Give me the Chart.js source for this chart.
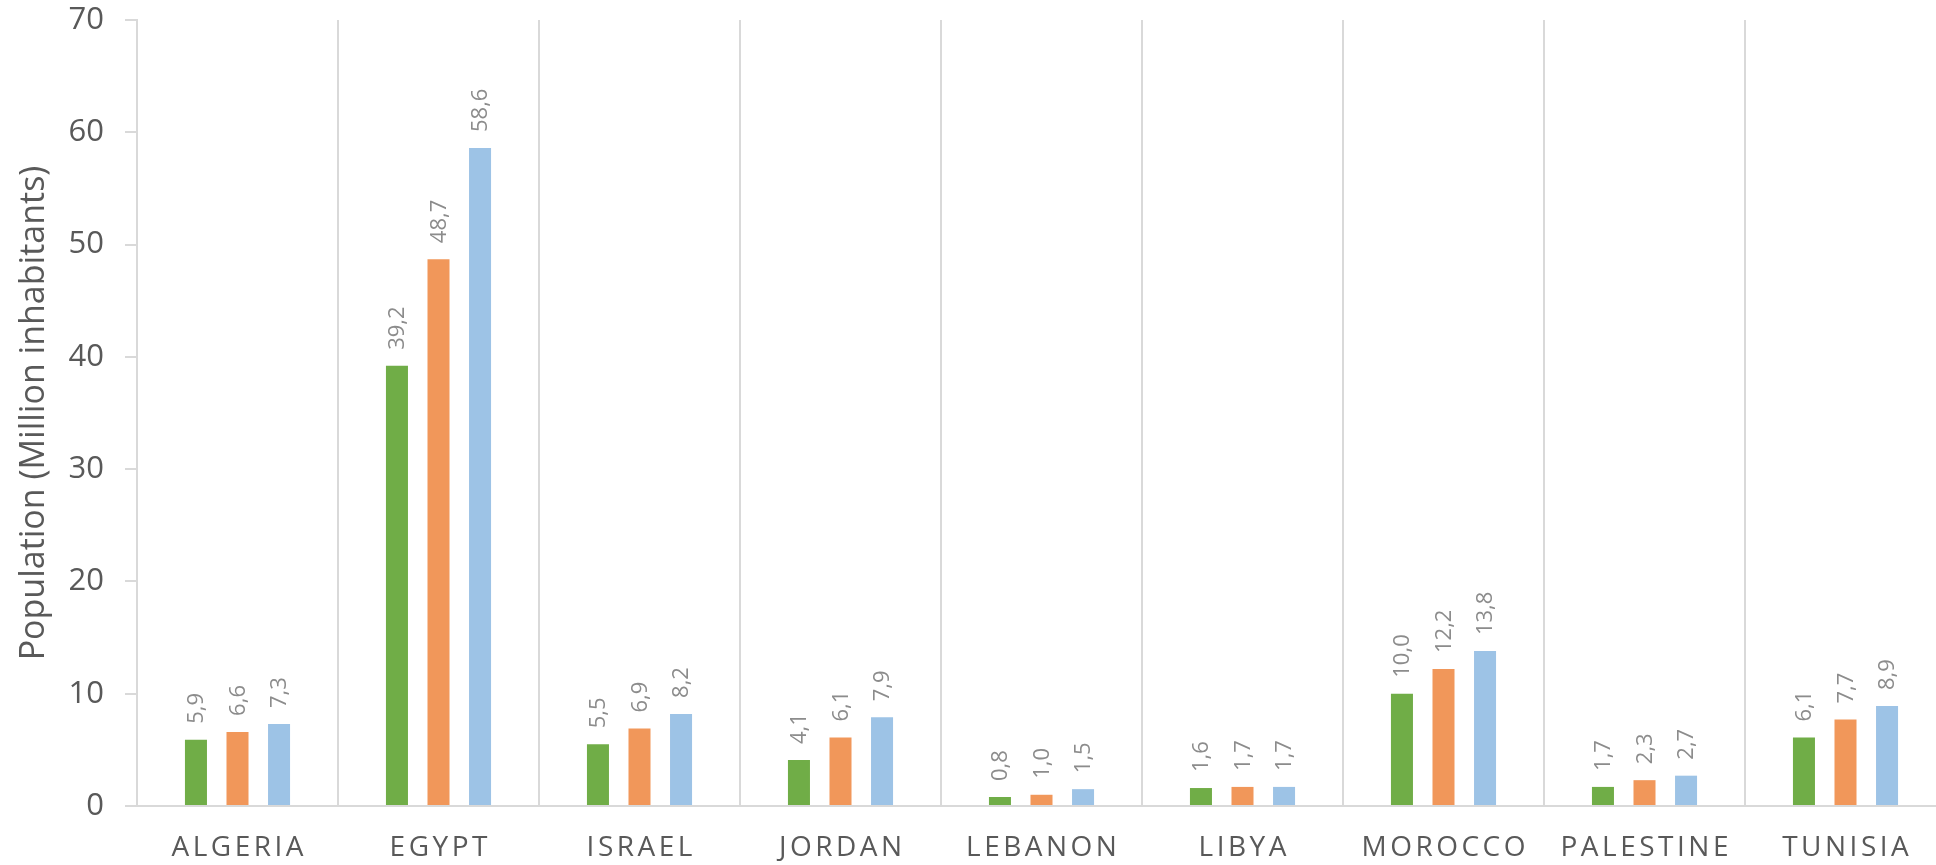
<!DOCTYPE html>
<html>
<head>
<meta charset="utf-8">
<script src="https://cdn.jsdelivr.net/npm/chart.js@4"></script>
<style>
  body { margin: 0; overflow: hidden; background: #fff; }
  #wrap { width: 1936px; height: 865px; overflow: hidden; }
</style>
</head>
<body>
<div id="wrap"><canvas id="pop-graph" width="1946" height="865"></canvas></div>
<script>
let labels = ['Algeria', 'Egypt', 'Israel', 'Jordan', 'Lebanon', 'Libya', 'Morocco', 'Palestine', 'Tunisia'];

// three series per country (green, orange, blue)
let series1 = [5.9, 39.2, 5.5, 4.1, 0.8, 1.6, 10.0, 1.7, 6.1];
let series2 = [6.6, 48.7, 6.9, 6.1, 1.0, 1.7, 12.2, 2.3, 7.7];
let series3 = [7.3, 58.6, 8.2, 7.9, 1.5, 1.7, 13.8, 2.7, 8.9];

let colour = ['#70AD47', '#F1975A', '#9DC3E6'];
let fontFamily = '"Open Sans", "Noto Sans", sans-serif';
let gridColour = '#d9d9d9';

// value labels standing upright above each bar
let barValues = {
    id: 'barValues',
    afterDatasetsDraw(chart) {
        let ctx = chart.ctx;
        ctx.save();
        ctx.fillStyle = '#8c8c8c';
        ctx.font = '22px ' + fontFamily;
        ctx.textAlign = 'left';
        ctx.textBaseline = 'middle';
        chart.data.datasets.forEach(function (ds, i) {
            chart.getDatasetMeta(i).data.forEach(function (bar, j) {
                let txt = ds.data[j].toFixed(1).replace('.', ',');
                ctx.save();
                ctx.translate(bar.x + 1, bar.y - 16);
                ctx.rotate(-Math.PI / 2);
                ctx.fillText(txt, 0, 0);
                ctx.restore();
            });
        });
        ctx.restore();
    }
};

// spaced out uppercase country names under the axis
let countryLabels = {
    id: 'countryLabels',
    afterDraw(chart) {
        let ctx = chart.ctx;
        let xScale = chart.scales.x;
        let spacing = 3.5;
        ctx.save();
        ctx.fillStyle = '#595959';
        ctx.font = '28px ' + fontFamily;
        ctx.letterSpacing = spacing + 'px';
        ctx.textAlign = 'center';
        ctx.textBaseline = 'middle';
        labels.forEach(function (name, i) {
            ctx.fillText(name.toUpperCase(), xScale.getPixelForValue(i) + spacing / 2, 848);
        });
        ctx.restore();
    }
};

let ctx = document.querySelector('#pop-graph').getContext('2d');

let myChart = new Chart(ctx, {
    type: 'bar',
    data: {
        labels: labels,
        datasets: [
            { label: 'Series 1', data: series1, backgroundColor: colour[0] },
            { label: 'Series 2', data: series2, backgroundColor: colour[1] },
            { label: 'Series 3', data: series3, backgroundColor: colour[2] }
        ]
    },
    options: {
        responsive: false,
        animation: false,
        categoryPercentage: 0.62,
        barPercentage: 0.53,
        layout: { padding: { top: 0, right: 0, bottom: 0, left: 0 } },
        plugins: {
            legend: { display: false },
            tooltip: { enabled: false }
        },
        scales: {
            x: {
                grid: {
                    offset: true,
                    color: gridColour,
                    lineWidth: 2,
                    drawTicks: false
                },
                border: { display: true, color: gridColour, width: 2 },
                ticks: { display: false },
                afterFit: function (scale) { scale.height = 59; }
            },
            y: {
                min: 0,
                max: 70,
                ticks: {
                    stepSize: 10,
                    color: '#595959',
                    padding: 21,
                    font: { family: fontFamily, size: 31 }
                },
                grid: {
                    drawOnChartArea: false,
                    color: gridColour,
                    lineWidth: 2,
                    tickLength: 12
                },
                border: { display: true, color: gridColour, width: 2 },
                title: {
                    display: true,
                    text: 'Population (Million inhabitants)',
                    color: '#595959',
                    padding: { top: 14, bottom: 0 },
                    font: { family: fontFamily, size: 34 }
                },
                afterFit: function (scale) {
                    scale.width = 137;
                    scale.paddingTop = 20;
                    scale.paddingBottom = 0;
                }
            }
        }
    },
    plugins: [barValues, countryLabels]
});
</script>
</body>
</html>
